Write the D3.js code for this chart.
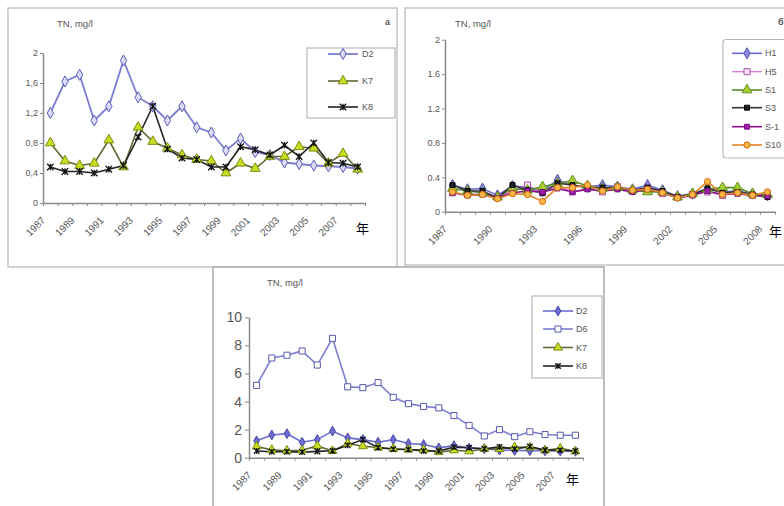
<!DOCTYPE html>
<html><head><meta charset="utf-8">
<script src="https://cdn.jsdelivr.net/npm/d3@7"></script>
<style>
html,body{margin:0;padding:0;background:#fff;overflow:hidden}
svg{display:block;font-family:"Liberation Sans",Arial,sans-serif}
</style></head><body>
<svg id="chart" width="784" height="506"></svg>
<script>
// Sampling years (one value per year)
const years = [1987,1988,1989,1990,1991,1992,1993,1994,1995,1996,1997,1998,1999,2000,2001,2002,2003,2004,2005,2006,2007,2008];

// Panel a: TN, mg/l
const yTicksA = [0, 0.4, 0.8, 1.2, 1.6, 2];
const xLabelsA = [1987,1989,1991,1993,1995,1997,1999,2001,2003,2005,2007];
const d2 = [1.20,1.62,1.71,1.10,1.29,1.90,1.41,1.29,1.10,1.29,1.01,0.94,0.70,0.86,0.68,0.64,0.54,0.52,0.50,0.49,0.48,0.46];
const k7 = [0.80,0.56,0.50,0.53,0.84,0.48,1.01,0.82,0.73,0.64,0.58,0.56,0.40,0.53,0.46,0.62,0.62,0.75,0.73,0.53,0.66,0.45];
const k8 = [0.48,0.42,0.42,0.40,0.45,0.50,0.88,1.29,0.72,0.60,0.58,0.48,0.48,0.75,0.71,0.64,0.77,0.62,0.80,0.54,0.53,0.48];

// Panel b: TN, mg/l
const yTicksB = [0, 0.4, 0.8, 1.2, 1.6, 2];
const xLabelsB = [1987,1990,1993,1996,1999,2002,2005,2008];
const h1  = [0.31,0.26,0.27,0.19,0.30,0.28,0.24,0.37,0.30,0.29,0.31,0.29,0.26,0.31,0.25,0.18,0.21,0.27,0.23,0.24,0.21,0.19];
const h5  = [0.22,0.20,0.21,0.17,0.24,0.31,0.22,0.30,0.23,0.27,0.23,0.29,0.24,0.27,0.21,0.17,0.20,0.23,0.19,0.22,0.19,0.19];
const s1  = [0.27,0.24,0.22,0.17,0.27,0.25,0.29,0.33,0.36,0.30,0.27,0.28,0.25,0.23,0.23,0.17,0.21,0.26,0.28,0.28,0.21,0.20];
const s3  = [0.31,0.24,0.24,0.16,0.31,0.25,0.22,0.33,0.31,0.28,0.28,0.28,0.25,0.28,0.24,0.17,0.20,0.27,0.22,0.23,0.20,0.17];
const sm1 = [0.22,0.19,0.20,0.16,0.22,0.24,0.23,0.27,0.23,0.26,0.24,0.26,0.23,0.26,0.22,0.16,0.19,0.24,0.20,0.21,0.19,0.18];
const s10 = [0.23,0.19,0.20,0.15,0.21,0.20,0.12,0.28,0.28,0.31,0.24,0.29,0.25,0.26,0.22,0.16,0.20,0.35,0.20,0.22,0.19,0.23];

// Panel c: TN, mg/l
const yTicksC = [0, 2, 4, 6, 8, 10];
const xLabelsC = [1987,1989,1991,1993,1995,1997,1999,2001,2003,2005,2007];
const d6 = [5.15,7.10,7.30,7.60,6.60,8.50,5.05,4.99,5.35,4.30,3.85,3.65,3.55,3.00,2.30,1.55,2.00,1.50,1.85,1.65,1.60,1.60];

const svg = d3.select("#chart");

// marker shapes
function markerPath(kind, s) {
  if (kind === "asterisk")
    return `M${-s},${-s}L${s},${s}M${-s},${s}L${s},${-s}M0,${-s}L0,${s}`;
  const types = {diamond: d3.symbolDiamond, square: d3.symbolSquare, triangle: d3.symbolTriangle, circle: d3.symbolCircle};
  const area = {diamond: 2.2, square: 3.6, triangle: 2.6, circle: 3.0}[kind] * s * s;
  return d3.symbol(types[kind], area)();
}

function drawPanel(p) {
  const g = svg.append("g");

  // frame
  g.append("rect").attr("x", p.frame[0]).attr("y", p.frame[1])
    .attr("width", p.frame[2]).attr("height", p.frame[3])
    .attr("fill", "#fff").attr("stroke", p.frameColor || "#c4c4c4").attr("stroke-width", 1.5);

  const x = d3.scaleLinear().domain([years[0] - 0.5, years[years.length - 1] + 0.5]).range(p.xRange);
  const y = d3.scaleLinear().domain([0, p.yMax]).range(p.yRange);

  // y axis
  const ya = g.append("g").attr("transform", `translate(${p.xRange[0]},0)`)
    .call(d3.axisLeft(y).tickValues(p.yTicks).tickSize(p.yTickSize || 3).tickSizeOuter(0)
      .tickPadding(p.yPad || 2).tickFormat(p.yFmt));
  ya.select(".domain").attr("stroke", "#8a8a8a").attr("stroke-width", 1.5);
  ya.selectAll(".tick line").attr("stroke", "#8a8a8a");
  ya.selectAll("text").attr("fill", "#555").style("font-size", p.yFont + "px");

  // x axis: tick marks on category boundaries
  const boundaries = years.map(v => v - 0.5).concat([years[years.length - 1] + 0.5]);
  const xa = g.append("g").attr("transform", `translate(0,${p.yRange[0]})`)
    .call(d3.axisBottom(x).tickValues(boundaries).tickSize(3).tickSizeOuter(0).tickFormat(""));
  xa.select(".domain").attr("stroke", "#8a8a8a").attr("stroke-width", 1.5);
  xa.selectAll(".tick line").attr("stroke", "#8a8a8a");

  // x labels centred on categories, rotated
  const xl = g.append("g").attr("transform", `translate(0,${p.yRange[0]})`)
    .call(d3.axisBottom(x).tickValues(p.xLabels).tickSize(0).tickFormat(d3.format("d")));
  xl.select(".domain").remove();
  xl.selectAll("text").attr("x", 0).attr("y", 0).attr("dy", 0)
    .attr("transform", `translate(${p.xlOff[0]},${p.xlOff[1]}) rotate(-45)`)
    .style("text-anchor", "end").style("font-size", p.xFont + "px").attr("fill", "#555");

  // title, panel letter, year unit
  g.append("text").attr("x", p.title[0]).attr("y", p.title[1]).text("TN, mg/l")
    .attr("fill", "#555").style("font-size", "9.5px");
  if (p.letter) g.append("text").attr("x", p.letter[1]).attr("y", p.letter[2]).text(p.letter[0])
    .attr("fill", "#555").style("font-size", "9px").style("font-weight", "bold");
  g.append("text").attr("x", p.nian[0]).attr("y", p.nian[1]).text("年")
    .attr("fill", "#000").style("font-size", "13px")
    .style("font-family", "'Noto Sans CJK SC','Noto Sans CJK JP',sans-serif");

  // series
  const line = d3.line().x((d, i) => x(years[i])).y(d => y(d));
  p.series.forEach(s => {
    g.append("path").datum(s.values).attr("d", line)
      .attr("fill", "none").attr("stroke", s.line).attr("stroke-width", s.width || 1.6);
  });
  p.series.forEach(s => {
    const path = markerPath(s.marker, s.size);
    g.append("g").selectAll("path").data(s.values).join("path")
      .attr("transform", (d, i) => `translate(${x(years[i])},${y(d)})`)
      .attr("d", path).attr("fill", s.marker === "asterisk" ? "none" : s.fill)
      .attr("stroke", s.stroke).attr("stroke-width", s.marker === "asterisk" ? 1.3 : 1);
  });

  // legend
  const L = p.legend;
  g.append("rect").attr("x", L.box[0]).attr("y", L.box[1]).attr("width", L.box[2]).attr("height", L.box[3])
    .attr("fill", "#fff").attr("stroke", "#b8b8b8").attr("stroke-width", 1.2).attr("rx", L.rx || 0);
  p.series.forEach((s, i) => {
    const ly = L.rows[i];
    g.append("line").attr("x1", L.line[0]).attr("x2", L.line[1]).attr("y1", ly).attr("y2", ly)
      .attr("stroke", s.line).attr("stroke-width", s.width || 1.6);
    g.append("path").attr("transform", `translate(${(L.line[0] + L.line[1]) / 2},${ly})`)
      .attr("d", markerPath(s.marker, s.size)).attr("fill", s.marker === "asterisk" ? "none" : s.fill)
      .attr("stroke", s.stroke).attr("stroke-width", s.marker === "asterisk" ? 1.3 : 1);
    g.append("text").attr("x", L.text).attr("y", ly).attr("dy", "0.35em").text(s.name)
      .attr("fill", "#555").style("font-size", L.font + "px");
  });
}

const commaFmt = d => String(d).replace(".", ",");

// panel a
drawPanel({
  frame: [8, 8, 389, 259],
  xRange: [43, 365], yRange: [203, 53], yMax: 2,
  yTicks: yTicksA, yFmt: commaFmt, yFont: 9,
  xLabels: xLabelsA, xFont: 10, xlOff: [-5, 18],
  title: [57, 27], letter: ["a", 385, 25], nian: [356, 233],
  series: [
    {name: "D2", values: d2, line: "#7c7cd2", marker: "diamond", size: 4, fill: "#dcdcfa", stroke: "#5a5ab8", width: 1.8},
    {name: "K7", values: k7, line: "#5e6a32", marker: "triangle", size: 4, fill: "#c8dc22", stroke: "#7c8c10"},
    {name: "K8", values: k8, line: "#222", marker: "asterisk", size: 3.2, stroke: "#111"}
  ],
  legend: {box: [307, 48, 88, 70], rows: [54, 81, 107], line: [328, 358], text: 362, font: 9}
});

// panel b
drawPanel({
  frame: [405, 8, 400, 257],
  xRange: [445, 775], yRange: [211.7, 39.7], yMax: 2,
  yTicks: yTicksB, yFmt: d => String(d), yFont: 9,
  xLabels: xLabelsB, xFont: 10, xlOff: [-5, 18],
  title: [455, 27], letter: ["б", 778, 25], nian: [769, 236],
  series: [
    {name: "H1", values: h1, line: "#6c6cd0", marker: "diamond", size: 4, fill: "#8a8ae0", stroke: "#4e4eb0"},
    {name: "H5", values: h5, line: "#d070d0", marker: "square", size: 3.2, fill: "#f6e4f6", stroke: "#b050b0", width: 1.2},
    {name: "S1", values: s1, line: "#5a8a2a", marker: "triangle", size: 4, fill: "#a8d030", stroke: "#5e8e1c"},
    {name: "S3", values: s3, line: "#333", marker: "square", size: 2.6, fill: "#222", stroke: "#000"},
    {name: "S-1", values: sm1, line: "#90108c", marker: "square", size: 2.6, fill: "#a020b0", stroke: "#701080"},
    {name: "S10", values: s10, line: "#e08428", marker: "circle", size: 3.2, fill: "#ffb848", stroke: "#d06a10"}
  ],
  legend: {box: [723, 39.5, 80, 118.5], rows: [53.3, 71.7, 90, 107.7, 126.7, 145], line: [732, 762], text: 765, font: 9, rx: 3}
});

// panel c
drawPanel({
  frame: [213, 267, 391, 250], frameColor: "#a8a8a8",
  xRange: [249, 583], yRange: [457.7, 317.3], yMax: 10,
  yTicks: yTicksC, yFmt: d => String(d), yFont: 14, yTickSize: 4, yPad: 3,
  xLabels: xLabelsC, xFont: 10, xlOff: [-5, 18],
  title: [267, 286], nian: [566, 484],
  series: [
    {name: "D2", values: d2, line: "#6c6cd0", marker: "diamond", size: 3.6, fill: "#6c6cd0", stroke: "#4a4aa8"},
    {name: "D6", values: d6, line: "#7c7cd2", marker: "square", size: 3.2, fill: "#fff", stroke: "#5a5ab0"},
    {name: "K7", values: k7, line: "#5e6a32", marker: "triangle", size: 3.6, fill: "#c8dc22", stroke: "#7c8c10"},
    {name: "K8", values: k8, line: "#222", marker: "asterisk", size: 2.8, stroke: "#111"}
  ],
  legend: {box: [532, 296, 70, 82], rows: [311, 329, 347.5, 366], line: [543, 573], text: 576, font: 9}
});
</script>
</body></html>
